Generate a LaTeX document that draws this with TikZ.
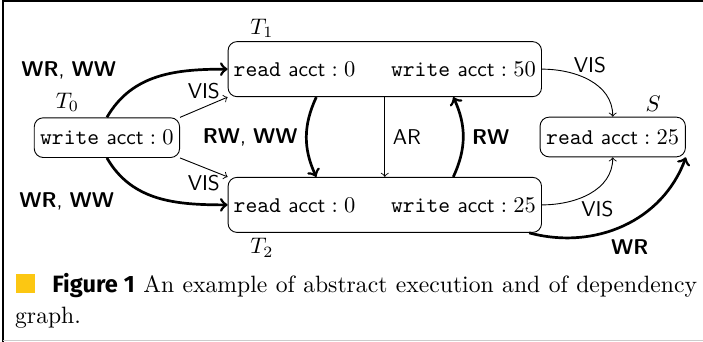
\documentclass[tikz,border=0pt]{standalone}
\usepackage{fontspec}
\newfontfamily\capsf{Fira Sans}
\usepackage{amsmath}
\usetikzlibrary{positioning}
\definecolor{lipicsyellow}{rgb}{0.99,0.78,0.07}
\newcommand{\acct}{{\fontsize{9.5pt}{11pt}\selectfont\sffamily acct}}

\tikzset{
  txn/.style={draw, rounded corners=4pt, inner xsep=2.5pt, minimum width=2.27cm, minimum height=0.62cm},
  bigtxn/.style={txn, text width=4.72cm, align=center, minimum height=0.86cm},
  dep/.style={->, very thick},
  vis/.style={->},
  lbl/.style={font=\fontsize{9.5pt}{11pt}\selectfont\sffamily},
}

\begin{document}
\begin{tikzpicture}
\useasboundingbox (0,0) rectangle (10.98,5.34);
% frame
\draw[line width=0.8pt] (0.05,0) -- (0.05,5.33) -- (10.98,5.33);
\draw[black!20] (0.05,0.03) -- (10.98,0.03);

% transactions
\node[txn] (T0) at (1.67,3.19) {\texttt{write} \acct${}:0$};
\node[bigtxn] (T1) at (6.01,4.26) {\texttt{read} \acct${}:0$\hfill\texttt{write} \acct${}:50$};
\node[bigtxn] (T2) at (6.01,2.14) {\texttt{read} \acct${}:0$\hfill\texttt{write} \acct${}:25$};
\node[txn] (S) at (9.57,3.20) {\texttt{read} \acct${}:25$};

\node[above right=-1pt and 0.22cm of T0.north west] (T0lab) {$T_0$};
\node[above right=-2pt and 0.23cm of T1.north west] (T1lab) {$T_1$};
\node[below right=-1pt and 0.23cm of T2.south west] (T2lab) {$T_2$};
\node[above left=-1pt and 0.27cm of S.north east] (Slab) {$S$};

% edges
\draw[dep] (T0.north) to[out=60,in=180] node[lbl, pos=0.3, above left, xshift=-0.15cm] {\textbf{WR}, \textbf{WW}} (T1.west);
\draw[dep] (T0.south) to[out=-60,in=180] node[lbl, pos=0.25, below left, xshift=-0.1cm] {\textbf{WR}, \textbf{WW}} (T2.west);
\draw[vis] (T0.north east) -- node[lbl, above] {VIS} (T1.south west);
\draw[vis] (T0.south east) -- node[lbl, below] {VIS} (T2.north west);

\draw[dep] ([xshift=-1.07cm]T1.south) to[bend right=25] node[lbl, left] {\textbf{RW}, \textbf{WW}} ([xshift=-1.07cm]T2.north);
\draw[vis] (T1) -- node[lbl, right] {AR} (T2);
\draw[dep] ([xshift=1.07cm]T2.north) to[bend right=25] node[lbl, right] {\textbf{RW}} ([xshift=1.07cm]T1.south);

\draw[vis] (T1.east) to[out=0,in=90] node[lbl, above] {VIS} (S.north);
\draw[vis] (T2.east) to[out=0,in=-90] node[lbl, below, xshift=0.12cm] {VIS} (S.south);
\draw[dep] ([xshift=-0.2cm]T2.south east) to[out=-15,in=-110] node[lbl, pos=0.38, below right, yshift=1pt] {\textbf{WR}} (S.south east);

% caption
\fill[lipicsyellow] (0.25,0.77) rectangle (0.55,1.06);
\node[anchor=base west, inner sep=0pt, font=\fontsize{10.5pt}{12pt}\selectfont] (cap1) at (0.81,0.765) {\makebox[10.07cm][s]{{\capsf\bfseries Figure 1} An example of abstract execution and of dependency}};
\node[anchor=base west, inner sep=0pt, font=\fontsize{10.5pt}{12pt}\selectfont] (cap2) at (0.23,0.281) {graph.};
\end{tikzpicture}
\end{document}
